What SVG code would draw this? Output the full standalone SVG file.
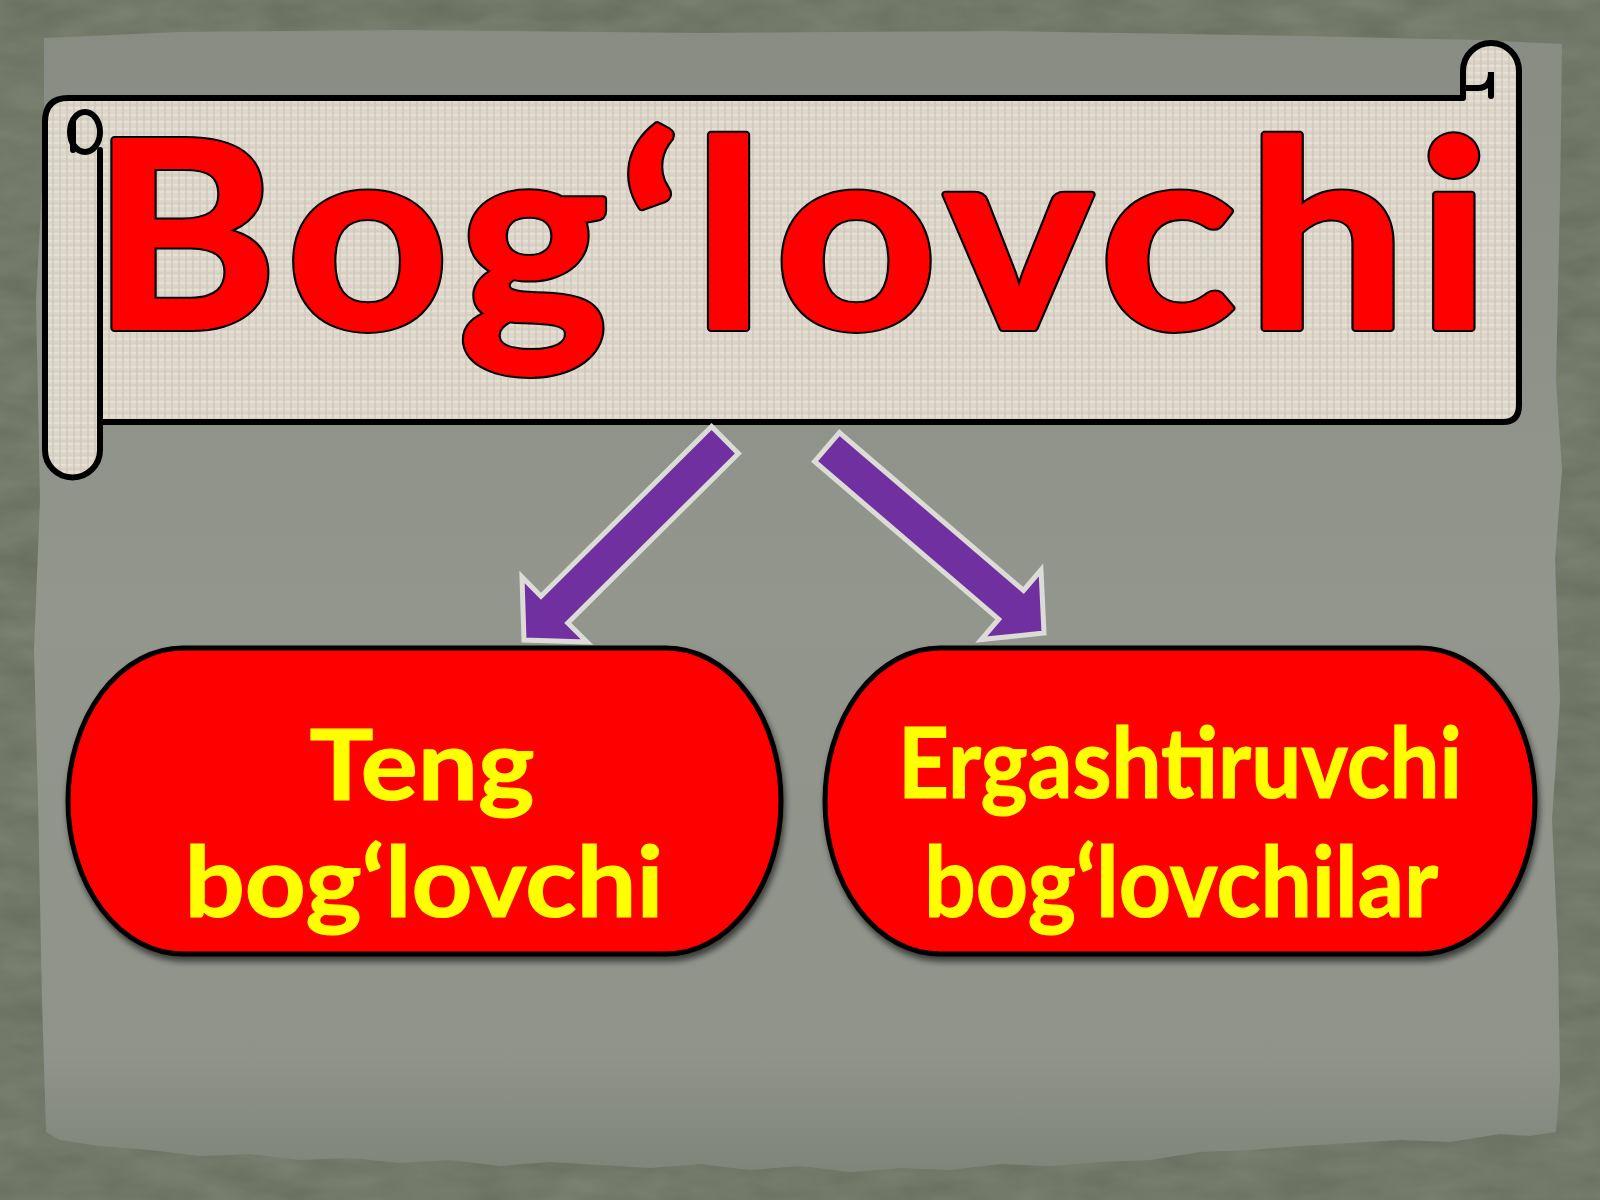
<svg xmlns="http://www.w3.org/2000/svg" width="1600" height="1200" viewBox="0 0 1600 1200">
  <defs>
    <style>
      .scroll { fill: #ddd6ca; stroke: #000; stroke-width: 6; stroke-linejoin: round; }
      .line { fill: none; stroke: #000; stroke-width: 6; stroke-linecap: round; }
      .title { font-family: Lato, "Liberation Sans", sans-serif; font-weight: bold; font-size: 260px; }
      .title-out { fill: #000; stroke: #000; stroke-width: 8; stroke-linejoin: round; }
      .title-in { fill: #ff0000; stroke: #ff0000; stroke-width: 4; stroke-linejoin: round; }
      .box { fill: #ff0000; stroke: #000; stroke-width: 5; }
      .lbl { font-family: Lato, "Liberation Sans", sans-serif; font-weight: bold; font-size: 98px; fill: #ffff00; stroke: #ffff00; stroke-width: 1.2; text-anchor: middle; }
      .arrow { fill: #7030a0; stroke: #dcdcd6; stroke-width: 5; stroke-linejoin: miter; }
    </style>
    <linearGradient id="paperG" x1="0" y1="0" x2="0" y2="1">
      <stop offset="0" stop-color="#888c83"/>
      <stop offset="0.5" stop-color="#92968d"/>
      <stop offset="0.9" stop-color="#8f938a"/>
      <stop offset="1" stop-color="#80857a"/>
    </linearGradient>
    <pattern id="linen" width="14" height="14" patternUnits="userSpaceOnUse">
      <rect width="14" height="14" fill="#ddd6ca"/>
      <path d="M0 3H14M0 10H14" stroke="#efe9df" stroke-width="1.2"/>
      <path d="M4 0V14M11 0V14" stroke="#c8c0b2" stroke-width="1"/>
      <path d="M0 7H14" stroke="#cfc7ba" stroke-width="0.8"/>
    </pattern>
    <filter id="tex" x="0" y="0" width="1" height="1">
      <feTurbulence type="fractalNoise" baseFrequency="0.015 0.04" numOctaves="3" seed="4" result="n"/>
      <feColorMatrix in="n" type="matrix" values="0 0 0 0 0.33  0 0 0 0 0.36  0 0 0 0 0.29  0 0 0 0.45 0" result="c"/>
      <feComposite in="c" in2="SourceGraphic" operator="in"/>
    </filter>
    <filter id="shadow" x="-10%" y="-10%" width="120%" height="130%">
      <feGaussianBlur in="SourceAlpha" stdDeviation="3"/>
      <feOffset dx="2" dy="5" result="b"/>
      <feComponentTransfer><feFuncA type="linear" slope="0.6"/></feComponentTransfer>
      <feMerge><feMergeNode/><feMergeNode in="SourceGraphic"/></feMerge>
    </filter>
  </defs>

  <!-- background frame -->
  <rect x="0" y="0" width="1600" height="1200" fill="#676d5c"/>
  <rect x="0" y="0" width="1600" height="1200" fill="#676d5c" filter="url(#tex)"/>
  <!-- torn paper -->
  <path fill="url(#paperG)" d="M44,38 L180,32 L400,30 L700,33 L1000,31 L1300,36 L1480,40 L1562,44 L1560,200 L1556,380 L1562,470 L1555,560 L1560,700 L1552,820 L1558,950 L1560,1080 L1556,1132 L1530,1136 L1500,1134 L1450,1142 L1400,1140 L1300,1146 L1250,1150 L1200,1152 L1150,1160 L1100,1162 L1050,1166 L1000,1164 L950,1170 L900,1168 L850,1172 L800,1166 L750,1170 L700,1164 L650,1168 L600,1165 L550,1162 L500,1166 L450,1160 L400,1163 L350,1158 L300,1160 L250,1154 L200,1156 L150,1150 L100,1146 L60,1140 L46,1132 L42,1000 L38,800 L34,650 L40,500 L36,300 L44,150 Z"/>

  <!-- title scroll -->
  <g id="title">
    <path class="scroll" style="fill:url(#linen)" d="M68,98 H1463 V71 A28,28 0 0 1 1519,71 V405 Q1519,422 1503,422 H100 V450 A27.5,27.5 0 0 1 45,450 V122 Q45,98 68,98 Z"/>
    <path class="line" d="M100,422 V150"/>
    <ellipse cx="85" cy="132" rx="15" ry="20" class="scroll" style="fill:url(#linen)"/>
    <path class="line" d="M73,120 V150"/>
    <path class="line" d="M1465,88 H1478 Q1491,88 1491,72 V96"/>
    <g transform="translate(92,328) scale(1.08,1)">
      <text class="title title-out" x="0" y="0" textLength="1294" lengthAdjust="spacing">Bog‘lovchi</text>
      <text class="title title-in" x="0" y="0" textLength="1294" lengthAdjust="spacing">Bog‘lovchi</text>
    </g>
  </g>

  <!-- connectors -->
  <g id="connectors">
    <polygon class="arrow" points="711.6,426.6 738.4,453.4 567.8,623 587,642 524,640 522,577 541,596.2"/>
    <polygon class="arrow" points="839.4,432.6 814.6,461.4 998.7,619.2 981.2,639.6 1044,633 1041,570 1023.5,590.4"/>
  </g>

  <!-- left node -->
  <g id="node-teng" filter="url(#shadow)">
    <rect class="box" x="68" y="648" width="713" height="306" rx="115" ry="153"/>
    <text class="lbl" x="422" y="800" textLength="225" lengthAdjust="spacingAndGlyphs">Teng</text>
    <text class="lbl" x="424" y="917" textLength="479" lengthAdjust="spacingAndGlyphs">bog‘lovchi</text>
  </g>

  <!-- right node -->
  <g id="node-ergash" filter="url(#shadow)">
    <rect class="box" x="825" y="648" width="710" height="306" rx="115" ry="153"/>
    <text class="lbl" x="1180" y="798" textLength="564" lengthAdjust="spacingAndGlyphs">Ergashtiruvchi</text>
    <text class="lbl" x="1181" y="917" textLength="514" lengthAdjust="spacingAndGlyphs">bog‘lovchilar</text>
  </g>
</svg>
